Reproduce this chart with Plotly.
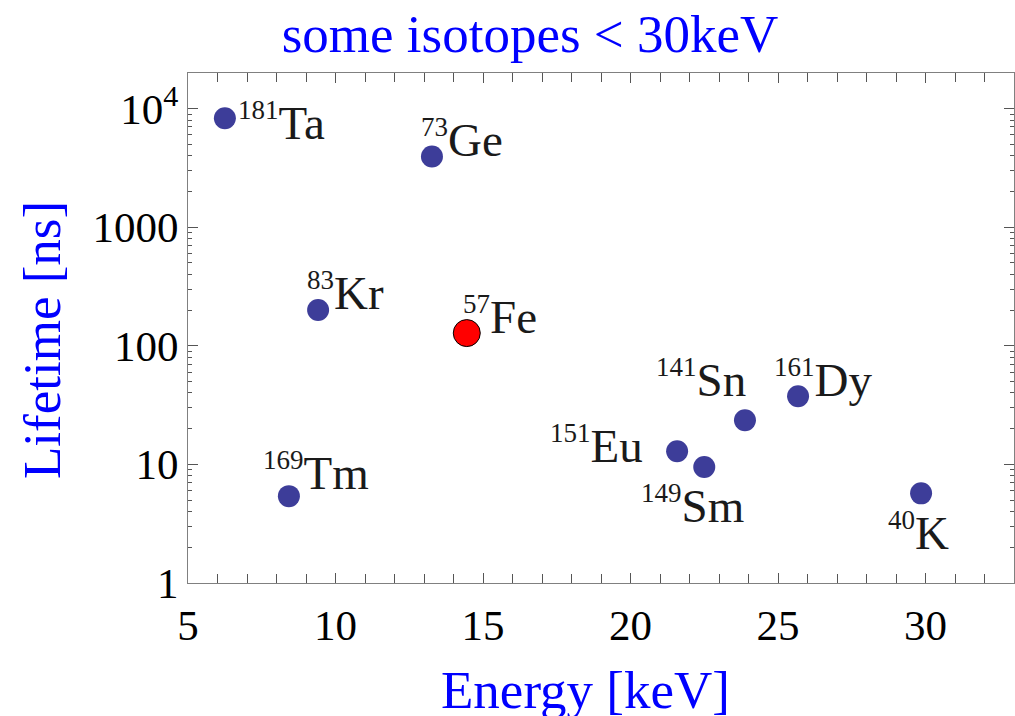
import plotly.graph_objects as go
import numpy as np

# ---- data ----
mass_numbers = ["181", "73", "83", "169", "151", "149", "141", "161", "40"]
elements = ["Ta", "Ge", "Kr", "Tm", "Eu", "Sm", "Sn", "Dy", "K"]
energies_kev = [6.25, 13.27, 9.41, 8.42, 21.58, 22.50, 23.88, 25.68, 29.85]
lifetimes_ns = [8300, 3950, 200, 5.4, 12.9, 9.5, 23.6, 37.6, 5.7]

fe_mass = "57"
fe_element = "Fe"
fe_energy_kev = 14.45
fe_lifetime_ns = 128

y_tick_vals = [1, 10, 100, 1000, 10000]
y_tick_text = ["1", "10", "100", "1000", "10<sup>4</sup>"]
x_tick_vals = [5, 10, 15, 20, 25, 30]

# ---- label placement (pixel offsets: xanchor, xshift, yshift) ----
label_style = [
    ("left", 12, -4),
    ("left", -12, 17),
    ("left", -12, 18),
    ("left", -27, 24),
    ("right", -33, 6),
    ("left", -64, -38),
    ("left", -90, 41),
    ("left", -25, 17),
    ("left", -34, -39),
]
fe_label_style = ("left", -5, 17)

FONT = "Liberation Serif"
BLUE = "#0000ff"
DOT = "#3d3d99"

# plot area in pixels (for placing axis titles in paper coords)
PL, PR, PT, PB = 188, 1014, 73, 583

def px_to_paper(px, py):
    return (px - PL) / (PR - PL), (PB - py) / (PB - PT)

fig = go.Figure()
fig.add_trace(go.Scatter(
    x=energies_kev, y=lifetimes_ns, mode="markers",
    marker=dict(size=22, color=DOT, line=dict(width=0)),
    showlegend=False, hoverinfo="skip"))
fig.add_trace(go.Scatter(
    x=[fe_energy_kev], y=[fe_lifetime_ns], mode="markers",
    marker=dict(size=27, color="#ff0000", line=dict(width=1, color="black")),
    showlegend=False, hoverinfo="skip"))

def label(m, el):
    return f"<sup><span style='font-size:27px'>{m}</span></sup>{el}"

anns = []
for m, el, e, lt, (xa, dx, dy) in zip(mass_numbers, elements, energies_kev, lifetimes_ns, label_style):
    anns.append(dict(x=e, y=np.log10(lt), xref="x", yref="y", text=label(m, el),
                     showarrow=False, xanchor=xa, yanchor="middle", xshift=dx, yshift=dy,
                     borderpad=0, font=dict(family=FONT, size=47, color="#1a1a1a")))
xa, dx, dy = fe_label_style
anns.append(dict(x=fe_energy_kev, y=np.log10(fe_lifetime_ns), xref="x", yref="y",
                 text=label(fe_mass, fe_element), showarrow=False, xanchor=xa, yanchor="middle",
                 xshift=dx, yshift=dy, borderpad=0, font=dict(family=FONT, size=47, color="#1a1a1a")))

# axis titles
ex, ey = px_to_paper(585, 690)
anns.append(dict(x=ex, y=ey, xref="paper", yref="paper",
                 text="Energy [keV]", showarrow=False, xanchor="center", yanchor="middle",
                 font=dict(family=FONT, size=53, color=BLUE)))
lx, ly = px_to_paper(42, 340)
anns.append(dict(x=lx, y=ly, xref="paper", yref="paper",
                 text="Lifetime [ns]", showarrow=False, xanchor="center", yanchor="middle",
                 textangle=-90, font=dict(family=FONT, size=53, color=BLUE)))

axis_common = dict(showgrid=False, zeroline=False, showline=True, linecolor="#808080",
                   linewidth=1, mirror="allticks", ticks="inside", tickcolor="#555555",
                   tickfont=dict(family=FONT, size=43, color="black"))

fig.update_layout(
    width=1015, height=716,
    margin=dict(l=188, r=1, t=73, b=133),
    paper_bgcolor="white", plot_bgcolor="white",
    title=dict(text="some isotopes &lt; 30keV", x=530 / 1015, xref="container", xanchor="center",
               y=1 - 33 / 716, yref="container", yanchor="middle",
               font=dict(family=FONT, size=53, color=BLUE)),
    xaxis=dict(range=[5, 33], tickvals=x_tick_vals, ticklen=10, ticklabelstandoff=4,
               minor=dict(dtick=1, ticks="inside", ticklen=9, tickcolor="#555555"),
               **axis_common),
    yaxis=dict(type="log", range=[0, 4.3], tickvals=y_tick_vals, ticktext=y_tick_text,
               ticklen=10,
               minor=dict(dtick="D1", ticks="inside", ticklen=4, tickcolor="#555555"),
               **axis_common),
    annotations=anns,
)

fig.write_html("out.html")
